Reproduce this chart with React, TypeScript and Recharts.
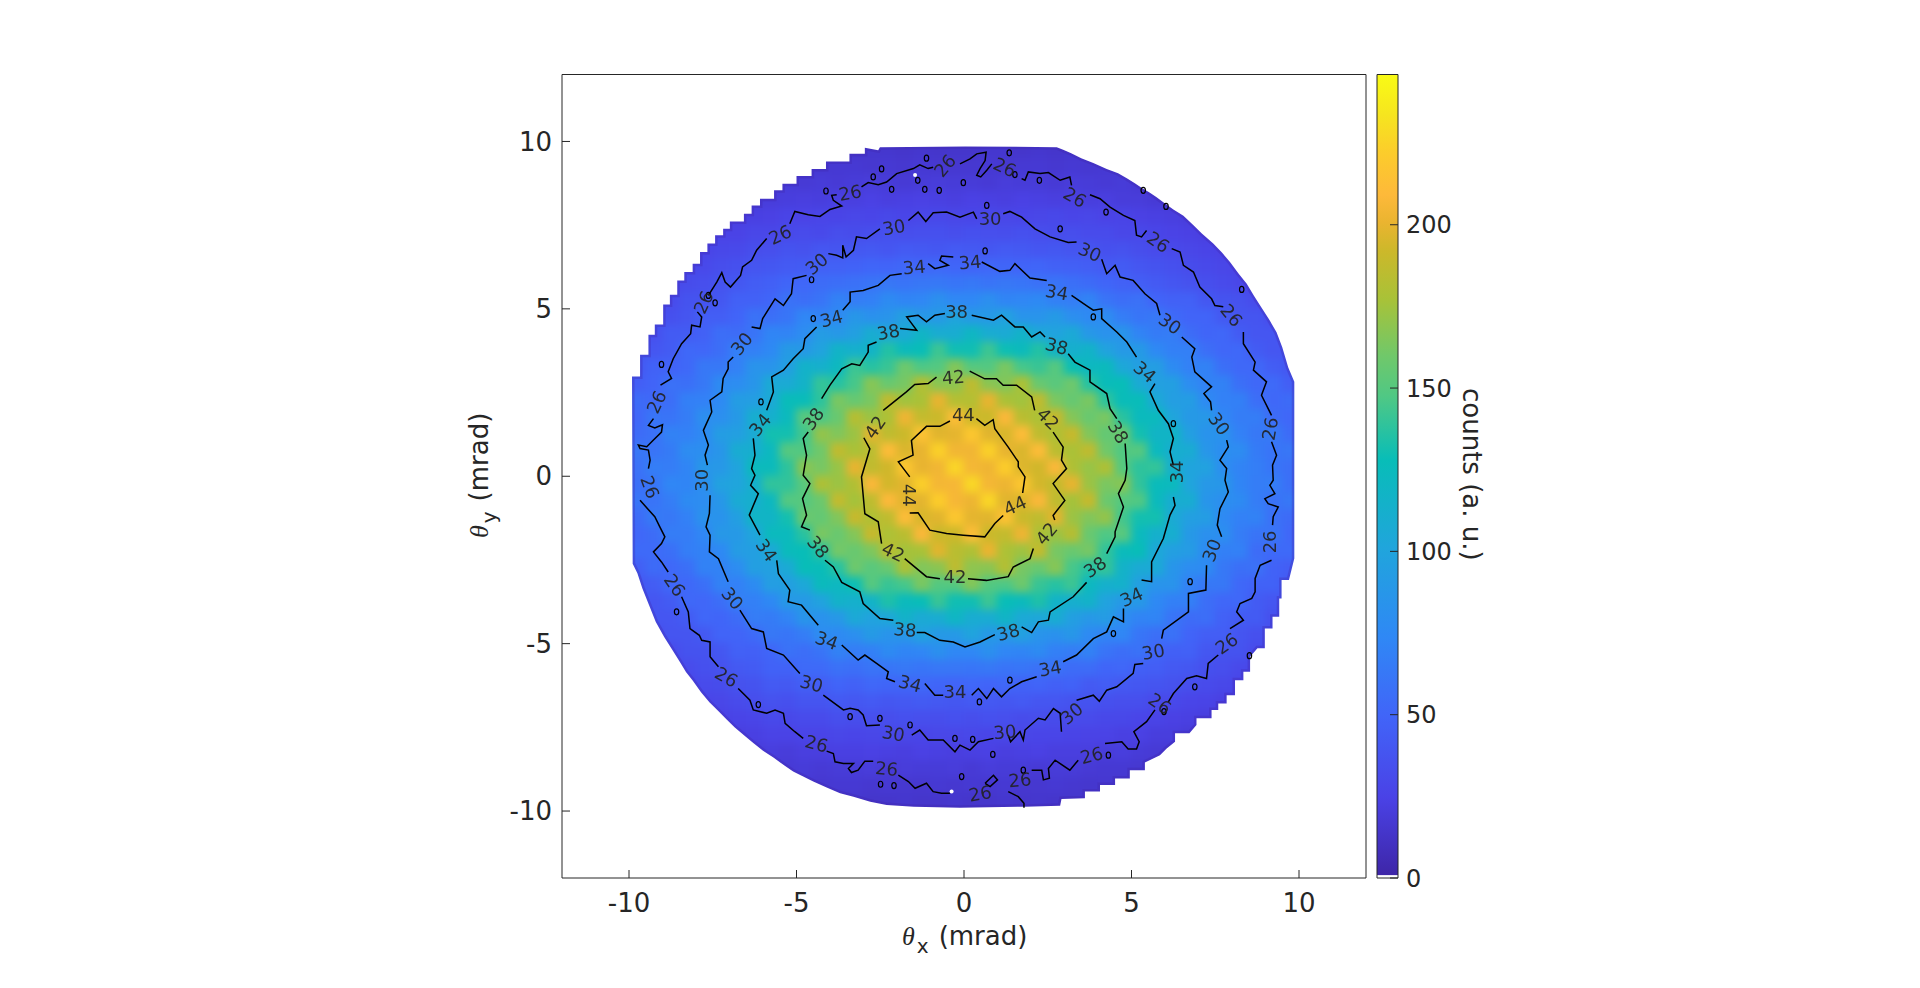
import { Bar, BarChart, Scatter, ScatterChart, XAxis, YAxis } from "recharts";

type Pt = [number, number];

const axisTicks = [-10, -5, 0, 5, 10];
const barTicks = [0, 50, 100, 150, 200];
const barMax = 246;

const heatX = [-10.25, -9.75, -9.25, -8.75, -8.25, -7.75, -7.25, -6.75, -6.25, -5.75, -5.25, -4.75, -4.25, -3.75, -3.25, -2.75, -2.25, -1.75, -1.25, -0.75, -0.25, 0.25, 0.75, 1.25, 1.75, 2.25, 2.75, 3.25, 3.75, 4.25, 4.75, 5.25, 5.75, 6.25, 6.75, 7.25, 7.75, 8.25, 8.75, 9.25, 9.75, 10.25];
const heatY = [10.25, 9.75, 9.25, 8.75, 8.25, 7.75, 7.25, 6.75, 6.25, 5.75, 5.25, 4.75, 4.25, 3.75, 3.25, 2.75, 2.25, 1.75, 1.25, 0.75, 0.25, -0.25, -0.75, -1.25, -1.75, -2.25, -2.75, -3.25, -3.75, -4.25, -4.75, -5.25, -5.75, -6.25, -6.75, -7.25, -7.75, -8.25, -8.75, -9.25, -9.75, -10.25];

// counts, one row per heatY
const heatRows = [
  [11,11,11,11,11,11,11,12,12,12,12,12,12,12,12,12,12,12,12,12,12,12,12,12,12,12,12,12,12,12,12,12,12,12,12,11,11,11,11,11,11,11],
  [11,12,12,12,13,13,13,14,14,14,14,14,15,15,14,15,15,14,15,14,14,14,15,15,14,15,14,15,15,14,14,14,14,13,13,13,12,12,12,11,11,11],
  [12,12,13,13,14,14,15,15,16,16,16,17,16,17,17,16,17,16,17,16,16,16,17,16,17,17,16,17,16,17,16,16,15,15,14,14,13,13,13,12,12,12],
  [12,13,13,14,15,16,16,17,18,17,19,18,19,18,19,20,19,18,19,20,19,19,18,20,19,19,18,20,19,18,19,17,18,16,16,15,14,14,13,13,12,12],
  [12,13,13,14,15,16,18,17,19,20,21,22,21,23,22,24,22,23,24,23,22,24,23,22,24,23,22,23,21,22,20,20,18,17,16,15,14,14,13,13,12,12],
  [14,15,16,17,18,19,21,22,23,24,26,25,27,26,28,27,29,27,28,29,28,27,29,28,27,28,29,27,28,25,26,24,23,22,20,19,18,17,16,15,15,14],
  [16,17,18,19,21,22,25,25,28,28,30,31,30,33,32,33,35,33,34,35,33,35,34,33,35,33,32,33,31,31,28,29,27,25,24,22,21,19,18,17,16,16],
  [18,19,20,22,24,26,29,30,33,34,37,36,39,38,40,41,39,42,41,40,42,41,40,42,41,39,40,38,38,35,36,33,31,30,28,26,24,22,20,19,18,18],
  [20,21,23,25,28,30,33,35,38,40,42,43,46,47,48,50,49,51,50,52,50,49,51,50,49,50,47,46,45,42,43,39,37,35,32,30,28,25,23,21,20,20],
  [22,24,26,28,32,34,37,40,44,46,50,51,55,56,58,60,62,60,62,63,61,63,60,62,61,58,60,57,54,50,47,45,42,39,36,34,31,28,26,24,22,22],
  [24,28,28,31,37,37,40,47,47,50,59,56,60,70,66,68,77,72,73,81,74,74,80,72,73,75,68,66,71,60,56,58,49,47,47,40,37,36,31,28,27,24],
  [26,28,34,35,38,45,45,49,59,57,61,73,71,76,88,82,85,96,89,90,100,90,90,98,85,85,91,80,76,78,66,61,63,53,49,49,41,38,38,31,28,29],
  [32,32,35,43,43,47,56,55,60,72,71,78,92,89,95,109,103,105,118,109,109,120,109,107,116,103,99,105,89,83,86,71,65,66,55,50,51,43,39,39,32,29],
  [33,40,39,43,52,51,56,68,68,75,91,90,99,117,113,117,135,125,128,142,130,130,142,129,125,135,117,112,117,99,90,91,75,68,68,56,51,52,43,39,40,33],
  [37,40,48,48,52,63,63,69,85,85,95,115,113,122,142,136,141,159,147,149,166,150,149,163,145,141,150,129,122,125,104,95,94,77,69,70,57,52,52,44,40,41],
  [46,45,49,58,57,63,77,78,86,106,107,116,140,136,145,167,157,162,182,168,169,186,168,165,179,157,151,159,136,127,128,107,96,95,78,70,70,57,52,53,45,42],
  [46,54,52,56,68,69,76,93,94,105,127,127,138,163,156,163,187,175,178,200,182,182,200,178,175,187,163,156,163,138,127,127,105,94,93,76,69,68,56,52,54,46],
  [48,51,61,60,66,80,80,90,111,112,124,151,147,157,183,173,179,203,188,191,212,192,191,208,184,179,190,166,157,163,137,124,124,101,90,89,73,66,66,55,51,54],
  [57,54,58,70,69,76,93,95,107,131,131,144,171,165,173,199,186,191,215,198,199,219,198,195,211,186,180,190,165,155,158,131,118,118,95,84,83,69,63,64,54,51],
  [53,62,60,65,78,79,87,109,111,123,150,148,160,187,178,185,211,196,200,224,204,204,224,200,196,211,185,178,187,160,148,150,123,111,109,87,79,78,65,60,62,53],
  [55,58,67,66,72,88,89,100,125,125,138,168,162,172,200,187,193,218,200,204,226,205,203,222,197,193,208,180,172,180,150,138,140,112,100,98,79,71,67,61,57,60],
  [60,57,61,73,72,80,98,101,113,139,139,151,180,173,181,208,194,198,223,205,206,227,205,202,218,194,188,200,173,163,167,139,126,124,101,89,88,72,66,67,57,54],
  [54,61,60,66,77,78,88,108,112,122,149,150,158,188,176,186,209,198,199,222,206,202,226,198,197,208,187,176,189,158,150,148,125,110,110,86,80,77,66,59,63,52],
  [51,54,64,63,69,83,84,95,118,118,131,158,155,165,190,180,186,211,195,198,219,199,198,215,191,186,199,173,165,171,144,131,131,107,95,93,76,69,70,58,54,57],
  [54,51,55,66,66,73,89,90,101,124,124,137,163,157,166,190,179,184,208,191,192,212,191,188,203,179,173,183,157,147,151,124,113,111,90,81,80,66,60,61,51,49],
  [47,53,53,57,67,70,75,92,95,104,126,128,137,161,157,164,185,176,177,198,184,180,201,179,174,188,162,157,162,139,126,128,104,95,92,77,68,69,55,53,53,47],
  [42,45,54,52,57,70,70,78,95,96,107,128,127,136,159,151,157,179,165,168,186,169,168,182,162,157,167,145,136,140,116,107,106,86,78,77,63,57,58,48,45,46],
  [41,40,44,52,52,57,70,69,77,94,95,104,125,122,129,150,141,145,163,149,150,166,149,147,159,141,136,142,122,113,114,95,85,85,69,63,63,52,48,48,40,37],
  [33,40,39,43,52,51,56,68,68,75,90,90,99,116,113,117,134,125,128,141,130,130,142,128,125,134,117,112,116,99,90,90,75,68,68,56,51,52,43,39,40,33],
  [29,32,39,39,43,51,50,55,66,65,71,86,83,89,105,99,103,116,107,109,120,109,109,118,105,103,109,95,89,92,78,71,72,60,55,56,47,43,43,35,32,32],
  [29,28,31,38,38,41,49,49,53,63,61,66,78,76,80,91,85,87,98,90,90,100,90,89,96,85,82,88,76,71,73,61,57,59,49,45,45,38,35,34,28,26],
  [23,28,28,31,37,37,40,47,46,50,59,56,60,70,66,68,77,72,73,81,74,74,81,73,72,77,68,66,70,60,56,59,50,46,47,40,37,37,31,28,28,23],
  [22,24,26,28,31,35,36,41,43,48,48,53,53,58,57,60,61,63,61,62,62,61,63,60,61,58,59,55,55,50,51,46,45,41,40,35,34,30,28,26,24,22],
  [20,21,23,25,27,31,32,36,37,42,41,45,44,49,47,51,50,50,52,50,49,51,49,51,48,49,46,48,42,44,41,40,38,36,33,31,29,27,25,23,21,20],
  [18,19,20,22,24,27,28,31,33,36,35,38,38,41,40,42,40,41,43,41,40,42,41,40,42,39,39,37,37,35,34,34,30,30,27,26,23,22,20,19,18,18],
  [16,17,18,19,21,23,24,26,27,30,29,31,31,34,33,34,33,35,34,33,35,33,35,34,32,33,32,31,31,29,29,27,26,24,23,21,20,18,17,16,16,16],
  [14,15,16,17,18,20,20,22,23,25,25,26,26,28,27,28,29,28,27,28,28,29,27,28,28,27,27,26,25,25,23,24,21,21,19,18,17,16,15,14,14,14],
  [12,13,13,14,15,17,17,18,19,21,20,22,22,23,23,24,23,22,24,23,22,23,24,22,23,24,22,22,22,20,21,19,18,17,15,15,14,13,13,12,12,12],
  [12,12,13,13,14,15,15,16,17,18,18,19,18,19,19,20,18,20,19,19,20,18,20,19,19,18,19,19,18,17,17,16,16,15,14,14,13,13,12,12,12,12],
  [12,12,12,13,13,14,14,15,15,16,16,17,16,17,17,16,17,16,16,17,16,17,16,17,16,16,17,16,15,16,15,15,14,14,13,13,13,12,12,12,12,12],
  [11,11,12,12,12,13,13,13,13,14,14,14,15,14,15,14,14,15,14,14,15,14,14,15,14,15,14,14,15,14,13,14,13,13,12,12,12,12,11,11,11,11],
  [11,11,11,11,11,11,11,12,12,12,12,12,12,12,12,12,12,12,12,12,12,12,12,12,12,12,12,12,12,12,12,12,12,12,12,11,11,11,11,11,11,11],
];

// outline of the measured disc, clockwise from the flat left side
const rim: Pt[] = [
  [-9.91,2.98],[-9.67,2.98],[-9.67,3.63],[-9.42,3.63],[-9.42,4.23],[-9.23,4.23],[-9.23,4.53],[-8.98,4.53],[-8.98,5.13],[-8.78,5.13],[-8.78,5.42],[-8.56,5.42],[-8.56,5.85],[-8.35,5.85],[-8.35,6.1],[-8.1,6.1],[-8.1,6.35],[-7.88,6.35],[-7.88,6.7],[-7.66,6.7],[-7.66,6.95],[-7.43,6.95],[-7.43,7.2],[-7.19,7.2],[-7.19,7.39],[-6.99,7.39],[-6.99,7.61],[-6.57,7.61],[-6.57,7.84],[-6.34,7.84],[-6.34,8.09],[-6.09,8.09],[-6.09,8.29],[-5.67,8.29],[-5.67,8.54],[-5.42,8.54],[-5.42,8.74],[-5,8.74],[-5,8.97],[-4.55,8.97],[-4.55,9.18],[-4.12,9.18],[-4.12,9.4],[-3.42,9.4],[-3.42,9.63],[-2.96,9.63],[-2.96,9.81],[-2.56,9.74],[-2.51,9.83],[0.03,9.85],
  [2.77,9.83],[2.96,9.75],[3.2,9.65],[3.5,9.5],[3.86,9.36],[4.26,9.18],[4.6,9.05],[4.86,8.9],[5.1,8.75],[5.3,8.62],[5.55,8.47],[5.75,8.33],[6,8.15],[6.25,7.97],[6.55,7.78],[6.85,7.5],[7.1,7.25],[7.44,6.95],[7.7,6.68],[7.94,6.4],[8.2,6.05],[8.44,5.75],[8.65,5.4],[8.84,5.1],[9.1,4.7],[9.33,4.3],[9.5,3.85],[9.68,3.25],[9.86,2.82],
  [9.86,-2.46],[9.7,-3.1],[9.48,-3.1],[9.48,-3.65],[9.41,-3.65],[9.41,-4.2],[9.21,-4.2],[9.21,-4.55],[8.98,-4.55],[8.98,-5.14],[8.76,-5.14],[8.54,-5.39],[8.54,-5.84],[8.34,-5.84],[8.34,-6.09],[8.09,-6.09],[8.09,-6.54],[7.84,-6.54],[7.84,-6.79],[7.59,-6.79],[7.59,-6.98],[7.39,-6.98],[7.39,-7.23],[6.94,-7.23],[6.94,-7.43],[6.73,-7.68],[6.3,-7.68],[6.3,-7.93],[6.05,-8.13],[5.85,-8.33],[5.4,-8.55],[5.4,-8.78],[4.95,-8.78],[4.95,-9.03],[4.51,-9.03],[4.51,-9.22],[4.06,-9.22],[4.06,-9.42],[3.61,-9.42],[3.61,-9.62],[2.91,-9.64],[2.87,-9.84],[1.82,-9.87],[-0.12,-9.9],
  [-1.5,-9.87],[-2.31,-9.82],[-2.8,-9.72],[-3.3,-9.57],[-3.7,-9.47],[-4.1,-9.3],[-4.5,-9.12],[-4.8,-8.97],[-5.1,-8.82],[-5.35,-8.65],[-5.69,-8.4],[-6,-8.2],[-6.29,-7.97],[-6.55,-7.75],[-6.85,-7.5],[-7.1,-7.25],[-7.35,-7],[-7.6,-6.75],[-7.85,-6.45],[-8.1,-6.1],[-8.3,-5.85],[-8.48,-5.55],[-8.7,-5.2],[-8.95,-4.8],[-9.2,-4.35],[-9.4,-3.85],[-9.6,-3.35],[-9.75,-2.9],[-9.89,-2.61],[-9.91,2.98],
];
const maskCorners: Pt[] = [[-11.3,2.98],[-11.3,11.3],[11.3,11.3],[11.3,-11.3],[-11.3,-11.3],[-11.3,2.98]];

const contour26: Pt[][] = [
  [[-9.42,.23],[-9.37,.48],[-9.42,.78],[-9.67,.83],[-9.72,.93],[-9.47,.88],[-9.27,1.08],[-9.03,1.32],[-9,1.54],[-9.23,1.44],[-9.42,1.52],[-9.27,1.72]],
  [[-9.06,2.72],[-8.73,2.92],[-8.83,3.12],[-8.68,3.51],[-8.43,3.96],[-8.16,4.26],[-8.13,4.51],[-7.88,4.46],[-7.83,4.76],[-7.96,4.91]],
  [[-7.63,5.4],[-7.38,5.8],[-7.23,6.08],[-7.13,5.8],[-6.97,5.65],[-6.67,6],[-6.61,6.25],[-6.34,6.45],[-6.19,6.75],[-5.89,7.1]],
  [[-5.2,7.54],[-5.05,7.91],[-4.65,7.81],[-4.3,7.76],[-4,7.97],[-3.65,8.07],[-3.9,8.24],[-3.95,8.39],[-3.8,8.41]],
  [[-3.06,8.64],[-2.86,8.77],[-2.56,8.71],[-2.31,8.79],[-2.01,9.04],[-1.51,9.19],[-1.32,9.3],[-1.07,9.19],[-.92,9.23]],
  [[-.12,9.33],[.18,9.48],[.38,9.63],[.66,9.68],[.63,9.43],[.48,9.19],[.38,8.99],[.5,8.94],[.68,9.14],[.83,9.33]],
  [[1.72,8.89],[1.82,8.84],[1.92,9.09],[2.27,9.04],[2.52,9.07],[2.87,8.84],[3.16,8.94],[3.21,8.69]],
  [[3.76,8.41],[4.06,8.29],[4.36,8.04],[4.76,7.79],[5.1,7.64],[5.15,7.2],[5.3,7.15],[5.45,7.34]],
  [[6.2,6.8],[6.45,6.7],[6.55,6.3],[6.85,6.1],[7.04,5.65],[7.39,5.3],[7.49,5.1],[7.74,5.06]],
  [[8.34,4.31],[8.34,3.96],[8.69,3.41],[8.64,3.17],[9.03,2.82],[8.88,2.42],[9.18,1.82]],
  [[9.18,1.03],[9.33,.63],[9.21,.33],[9.23,-.12],[9.13,-.27],[9.28,-.52],[8.98,-.67],[9.08,-.82],[9.38,-.92],[9.23,-1.21],[9.21,-1.46]],
  [[9.18,-2.51],[8.84,-2.66],[8.69,-3.05],[8.69,-3.45],[8.59,-3.65],[8.24,-3.8],[8.14,-4.05],[8.34,-4.3],[7.94,-4.55]],
  [[7.59,-5.34],[7.29,-5.59],[7.24,-6.04],[6.94,-5.96],[6.65,-6.04],[6.25,-6.49],[6.1,-6.74]],
  [[5.7,-6.98],[5.45,-7.33],[5.07,-7.63],[5.23,-7.93],[5.15,-8.15],[4.9,-8.15],[4.71,-7.93],[4.21,-7.98]],
  [[3.41,-8.48],[3.16,-8.78],[2.72,-8.48],[2.52,-8.73],[2.55,-9.02],[2.37,-9.07],[2.32,-8.78],[2.02,-8.78]],
  [[1.32,-9.42],[1.62,-9.57],[1.79,-9.77],[1.79,-9.9]],
  [[.63,-9.17],[.88,-8.93],[1,-9.07],[.78,-9.27],[.63,-9.17]],
  [[-.42,-9.47],[-.67,-9.47],[-.92,-9.42],[-1.12,-9.17],[-1.46,-9.32],[-1.66,-9.12],[-1.96,-8.93]],
  [[-2.71,-8.51],[-2.96,-8.51],[-3.16,-8.78],[-3.36,-8.85],[-3.45,-8.73],[-3.3,-8.58],[-3.6,-8.58],[-3.85,-8.53],[-3.9,-8.28],[-4.1,-8.21]],
  [[-4.8,-7.83],[-5.05,-7.63],[-5.34,-7.38],[-5.39,-7.08],[-5.64,-6.98],[-5.89,-7.08],[-6.29,-6.98],[-6.39,-6.69],[-6.74,-6.34]],
  [[-7.33,-5.69],[-7.58,-5.39],[-7.58,-4.95],[-7.83,-4.9],[-7.9,-4.75],[-8.18,-4.55],[-8.23,-4.05],[-8.43,-3.6]],
  [[-8.83,-2.86],[-9.03,-2.56],[-9.27,-2.26],[-9.03,-2.01],[-8.93,-1.81],[-9.08,-1.51],[-9.23,-1.21],[-9.67,-.72]],
];

const contour30: Pt[][] = [
  [[-7.66,.33],[-7.73,.63],[-7.63,.93],[-7.78,1.37],[-7.53,1.92],[-7.58,2.27],[-7.23,2.52],[-7.19,2.92],[-7.04,3.21],[-7.04,3.41],[-6.89,3.56]],
  [[-6.34,4.46],[-6.09,4.41],[-6.01,4.71],[-5.64,5.3],[-5.39,5.1],[-5.15,5.45],[-5.1,5.9],[-4.7,6]],
  [[-4.05,6.65],[-3.8,6.6],[-3.62,6.52],[-3.62,6.9],[-3.52,6.55],[-3.3,6.75],[-3.21,7.15],[-2.91,7.1],[-2.51,7.39]],
  [[-1.66,7.64],[-1.37,7.89],[-1.14,7.61],[-.92,7.87],[-.52,7.89],[-.12,7.74],[.28,7.89],[.38,7.69]],
  [[1.17,7.84],[1.37,7.91],[1.72,7.74],[2.12,7.39],[2.57,7.15],[3.11,6.98],[3.36,7]],
  [[4.11,6.48],[4.26,6.05],[4.51,6.3],[4.66,5.95],[5.05,5.85],[5.4,5.45],[5.75,5.16],[5.85,4.81]],
  [[6.5,4.16],[6.89,3.81],[6.8,3.56],[6.89,3.12],[7.39,2.67],[7.16,2.47],[7.36,2.22],[7.39,1.97]],
  [[7.84,1.08],[7.89,.88],[7.64,.48],[7.84,.23],[7.79,-.12],[7.89,-.47],[7.64,-.97],[7.56,-1.46],[7.69,-1.81]],
  [[7.24,-2.66],[7.22,-3.4],[6.7,-3.5],[6.7,-4.05],[5.95,-4.6],[5.9,-4.85]],
  [[5.35,-5.59],[5.1,-5.62],[5.05,-5.89],[4.56,-6.29],[4.26,-6.39],[4.04,-6.72],[3.86,-6.54],[3.36,-6.69]],
  [[2.87,-7.08],[2.91,-7.63],[2.87,-7.08],[2.67,-6.94],[2.42,-7.28],[2.22,-7.23],[1.82,-7.58],[1.77,-7.88],[1.67,-7.63],[1.39,-7.93],[1.32,-7.73]],
  [[.88,-7.83],[.43,-7.93],[.18,-8.18],[-.12,-8.03],[-.27,-8.23],[-.62,-7.88],[-1.07,-7.88],[-1.32,-7.58],[-1.56,-7.73]],
  [[-2.51,-7.43],[-2.91,-7.45],[-3.01,-7.13],[-3.16,-6.98],[-3.4,-6.93],[-3.6,-6.98],[-4.2,-6.54]],
  [[-4.9,-5.89],[-5.39,-5.34],[-5.89,-5.14],[-5.99,-4.65],[-6.34,-4.55],[-6.69,-4]],
  [[-7.04,-3.15],[-7.33,-2.46],[-7.6,-2.26],[-7.58,-1.76],[-7.7,-1.51],[-7.6,-1.11],[-7.58,-.57]],
];

const contour34: Pt[][] = [
  [[-6.09,-1.76],[-6.41,-1.16],[-6.14,-.52],[-6.37,-.27],[-6.24,.03],[-6.34,.23],[-6.24,.63],[-6.29,1.13]],
  [[-5.89,1.97],[-5.69,2.52],[-5.74,2.97],[-5.39,3.17],[-5.1,3.51],[-4.8,3.81],[-4.75,4.11],[-4.4,4.46]],
  [[-3.62,4.96],[-3.4,5.21],[-3.4,5.5],[-3.01,5.55],[-2.56,5.7],[-2.21,6],[-1.86,6.05]],
  [[-1.07,6.35],[-.87,6.2],[-.47,6.3],[-.72,6.45],[-.67,6.58],[-.32,6.55]],
  [[.53,6.4],[1.07,6.12],[1.37,6.15],[1.52,6.35],[1.97,5.92],[2.47,5.85]],
  [[3.21,5.4],[3.71,5.06],[3.86,4.96],[4.11,5],[4.11,4.71],[4.56,4.31],[4.86,4.01],[5.15,3.56]],
  [[5.7,2.77],[5.55,2.52],[5.8,1.97],[6.1,1.57],[6.25,1.13],[6.15,.73],[6.25,.33]],
  [[6.25,-.62],[6.3,-.87],[6.15,-1.16],[5.95,-1.86],[5.6,-2.56],[5.6,-3.15],[5.3,-3.1]],
  [[4.76,-3.95],[4.76,-4.35],[4.46,-4.2],[4.26,-4.65],[3.86,-4.85],[3.36,-5.34],[2.96,-5.54]],
  [[2.17,-5.99],[1.72,-6.14],[1.37,-6.34],[1.12,-6.59],[.88,-6.34],[.68,-6.64],[.43,-6.34],[.23,-6.54]],
  [[-.62,-6.54],[-.87,-6.54],[-1.17,-6.19]],
  [[-2.06,-6.14],[-2.31,-6.04],[-2.26,-5.84],[-2.61,-5.59],[-2.96,-5.34],[-3.16,-5.49],[-3.65,-5.04]],
  [[-4.35,-4.45],[-4.85,-3.85],[-5.25,-3.75],[-5.2,-3.4],[-5.54,-2.91],[-5.59,-2.51]],
];

const contour38: Pt[][] = [
  [[-4.6,-1.61],[-4.85,-1.51],[-4.7,-1.16],[-4.82,-.67],[-4.6,-.22],[-4.8,.03],[-4.7,.63],[-4.8,1.13],[-4.65,1.32]],
  [[-4.25,2.32],[-4,2.72],[-3.65,3.21],[-3.35,3.36],[-3.11,3.31],[-2.86,3.71],[-2.86,3.91],[-2.61,4.01]],
  [[-1.91,4.41],[-1.41,4.36],[-1.71,4.76],[-1.37,4.81],[-1.12,4.61],[-.87,4.81],[-.57,4.86]],
  [[.23,4.81],[.88,4.66],[1.12,4.81],[1.52,4.46],[1.77,4.46],[2.02,4.16],[2.27,4.31],[2.42,4.16]],
  [[3.11,3.66],[3.31,3.41],[3.76,3.17],[3.76,2.82],[4.26,2.47],[4.36,2.02],[4.56,1.72]],
  [[4.81,.98],[4.86,.23],[4.81,-.12],[4.61,-.52],[4.76,-.92],[4.51,-1.66],[4.51,-1.81],[4.26,-2.31]],
  [[3.66,-3.17],[3.26,-3.6],[2.57,-4.05],[2.52,-4.3],[2.22,-4.35],[2.02,-4.67],[1.72,-4.5]],
  [[.92,-4.73],[.48,-4.95],[.03,-5.1],[-.32,-4.95],[-.72,-4.9],[-1.17,-4.67],[-1.41,-4.67]],
  [[-2.11,-4.3],[-2.51,-4.25],[-3.01,-3.8],[-3.11,-3.45],[-3.65,-3.17],[-3.9,-2.71],[-4.15,-2.51]],
];

const contour42: Pt[][] = [
  [[-2.41,1.97],[-1.72,2.52],[-1.47,2.74],[-1.07,2.77],[-.82,2.96]],
  [[.17,3.14],[.62,2.91],[.97,2.91],[1.17,2.72],[1.57,2.72],[2.02,2.37],[2.11,1.97]],
  [[2.66,1.32],[2.96,.87],[2.91,.48],[3.06,.23],[2.66,-.22],[3.01,-.72],[2.66,-1.17],[2.71,-1.31]],
  [[2.07,-2.16],[1.97,-2.46],[1.47,-2.71],[1.32,-3],[.67,-3.11],[.12,-3.06]],
  [[-.72,-3.06],[-1.12,-3],[-1.77,-2.46]],
  [[-2.46,-2.01],[-2.56,-1.36],[-2.96,-1.12],[-3.06,-.02],[-2.81,.82],[-2.99,1.15]],
];

const contour44: Pt[][] = [
  [[-1.62,-.02],[-1.96,.43],[-1.52,.63],[-1.57,1.07],[-1.12,1.49],[-.72,1.49],[-.42,1.65]],
  [[.37,1.72],[.62,1.52],[.87,1.69],[.92,1.42],[1.32,.87],[1.62,.43],[1.62,.28],[1.82,-.02],[1.75,-.5]],
  [[1.17,-1.17],[.92,-1.41],[.62,-1.81],[-.02,-1.76],[-.52,-1.71],[-1.02,-1.61],[-1.37,-1.09],[-1.62,-1.1]],
];

// [x, y, level, angle]
const contourLabels: [number, number, number, number][] = [
  [-9.18,2.22,26,-65],[-7.78,5.2,26,-65],[-5.49,7.22,26,-25],[-3.4,8.47,26,-10],[-.57,9.28,26,-50],[1.22,9.23,26,25],[3.31,8.34,26,30],[5.8,7,26,35],[7.99,4.81,26,50],[9.13,1.42,26,-80],[9.13,-1.96,26,-90],[7.84,-4.99,26,-35],[5.85,-6.79,26,35],[3.81,-8.33,26,-15],[1.67,-9.07,26,-5],[.48,-9.47,26,-10],[-2.31,-8.73,26,5],[-4.4,-7.98,26,15],[-7.09,-5.99,26,30],[-8.63,-3.25,26,55],[-9.37,-.32,26,70],
  [-6.64,3.96,30,-50],[-4.4,6.35,30,-40],[-2.09,7.44,30,-10],[.78,7.69,30,0],[3.76,6.7,30,25],[6.15,4.56,30,35],[7.62,1.57,30,55],[7.39,-2.21,30,-70],[5.65,-5.24,30,-10],[3.21,-7.08,30,-40],[1.22,-7.63,30,-5],[-2.11,-7.68,30,10],[-4.55,-6.19,30,15],[-6.91,-3.65,30,50],[-7.83,-.12,30,-90],
  [-6.09,1.54,34,-50],[-3.96,4.71,34,-15],[-1.49,6.25,34,-5],[.18,6.4,34,-5],[2.77,5.5,34,10],[5.4,3.12,34,40],[6.35,.13,34,-90],[5,-3.6,34,-25],[2.57,-5.74,34,-10],[-.27,-6.44,34,0],[-1.61,-6.19,34,15],[-4.1,-4.9,34,20],[-5.89,-2.21,34,55],
  [-4.5,1.72,38,-55],[-2.26,4.31,38,-10],[-.22,4.91,38,0],[2.77,3.89,38,15],[4.61,1.32,38,60],[3.91,-2.71,38,-35],[1.32,-4.65,38,-15],[-1.76,-4.58,38,5],[-4.35,-2.11,38,50],
  [-.32,2.96,42,-5],[-2.66,1.47,42,-55],[2.51,1.72,42,45],[2.46,-1.71,42,-50],[-2.11,-2.26,42,25],[-.27,-3,42,0],
  [-.02,1.85,44,0],[-1.62,-.57,44,90],[1.52,-.87,44,-25],
];

// little closed contours scattered over the noisy outer part
const islets: Pt[] = [
  [-9.03,3.34],[-4.12,8.52],[-2.46,9.18],[-2.71,8.94],[-1.12,9.5],[-2.16,8.57],[-1.38,8.84],[-1.17,8.57],[-.74,8.54],[-4.55,5.87],[-4.5,4.71],[-6.06,2.22],[-7.43,5.18],[-7.63,5.4],
  [.68,8.09],[2.87,7.39],[2.25,8.84],[4.24,7.89],[3.86,4.76],[6.25,1.57],[6.03,8.06],[5.35,8.54],[8.29,5.58],[1.35,9.66],[.63,6.73],[-.02,8.77],[1.52,9.01],
  [-6.14,-6.82],[-2.51,-7.23],[-1.61,-7.43],[-.27,-7.83],[-3.4,-7.18],[-2.49,-9.2],[-2.09,-9.24],[-.07,-8.97],[-8.58,-4.05],
  [1.37,-6.09],[.46,-6.74],[.26,-7.86],[.86,-8.31],[4.31,-8.33],[6.89,-6.29],[6.75,-3.15],[4.46,-4.7],[5.97,-7.03],[8.52,-5.36],[1.77,-8.78],
];
const specks: Pt[] = [[-1.46,9],[-.37,-9.42]];

const parulaStops: [number, string][] = [
  [0, "#3e26a8"], [0.1, "#4a42e6"], [0.2, "#4164f8"], [0.3, "#2f88f5"], [0.41, "#20a5dc"], [0.52, "#08bdb8"],
  [0.6, "#50c884"], [0.65, "#70c86a"], [0.72, "#a8c238"], [0.78, "#ccb82a"], [0.816, "#eab430"], [0.85, "#fdb93a"],
  [0.9, "#fccb2c"], [0.95, "#f6e51f"], [1, "#f9fb15"],
];

const hexToRgb = (h: string) => [1, 3, 5].map((i) => parseInt(h.slice(i, i + 2), 16));

function parula(v: number) {
  const t = Math.min(1, Math.max(0, v / barMax));
  for (let i = 1; i < parulaStops.length; i++) {
    if (t <= parulaStops[i][0]) {
      const [t0, c0] = parulaStops[i - 1];
      const [t1, c1] = parulaStops[i];
      const f = (t - t0) / (t1 - t0);
      const a = hexToRgb(c0);
      const b = hexToRgb(c1);
      return `rgb(${a.map((x, k) => Math.round(x + (b[k] - x) * f)).join(",")})`;
    }
  }
  return parulaStops[parulaStops.length - 1][1];
}

const heatData = heatRows.flatMap((row, r) => row.map((v, c) => ({ x: heatX[c], y: heatY[r], v })));
const toXY = (pts: Pt[]) => pts.map(([x, y]) => ({ x, y }));
const maskData = toXY([...maskCorners, ...rim, maskCorners[0]]);
const segments = [...contour26, ...contour30, ...contour34, ...contour38, ...contour42, ...contour44];
const labelData = contourLabels.map(([x, y, level, angle]) => ({ x, y, level, angle }));

const ink = "#262626";
const font = "'DejaVu Sans', sans-serif";
const noDot = () => <g />;
const HeatCell = ({ cx, cy, payload }: any) => <rect x={cx - 9} y={cy - 9} width={18} height={18} fill={parula(payload.v)} />;
const IsletDot = ({ cx, cy }: any) => <ellipse cx={cx} cy={cy} rx={2.2} ry={3} fill="none" stroke="#000" strokeWidth={1.2} />;
const SpeckDot = ({ cx, cy }: any) => <circle cx={cx} cy={cy} r={2} fill="#fff" />;
const ContourLabel = ({ cx, cy, payload }: any) => (
  <text x={cx} y={cy} fontSize={18} fontFamily={font} fill="#222" opacity={0.9} textAnchor="middle" dominantBaseline="central" transform={`rotate(${payload.angle} ${cx} ${cy})`}>
    {payload.level}
  </text>
);

export default function App() {
  const axisTick = { fontSize: 26, fontFamily: font, fill: ink };
  return (
    <div style={{ position: "absolute", left: 0, top: 0, width: 1920, height: 988, background: "#fff" }}>
      <style>{`.heat-layer{filter:url(#heatBlur)}`}</style>
      <div style={{ position: "absolute", left: 0, top: 0 }}>
        <ScatterChart width={1920} height={988} margin={{ left: 561, top: 73.5, right: 553, bottom: 109 }}>
          <defs>
            <filter id="heatBlur" x="-5%" y="-5%" width="110%" height="110%" colorInterpolationFilters="sRGB">
              <feGaussianBlur stdDeviation={4.5} />
            </filter>
          </defs>
          <XAxis type="number" dataKey="x" domain={[-12, 12]} ticks={axisTicks} height={1} stroke={ink} tickSize={-8} tickMargin={24} tick={axisTick} interval={0} />
          <XAxis xAxisId="top" orientation="top" type="number" dataKey="x" domain={[-12, 12]} ticks={axisTicks} height={1} stroke={ink} tickSize={-8} tickFormatter={() => ""} interval={0} />
          <YAxis type="number" dataKey="y" domain={[-12, 12]} ticks={axisTicks} width={1} stroke={ink} tickSize={-8} tickMargin={18} tick={axisTick} interval={0} />
          <YAxis yAxisId="right" orientation="right" type="number" dataKey="y" domain={[-12, 12]} ticks={axisTicks} width={1} stroke={ink} tickSize={-8} tickFormatter={() => ""} interval={0} />
          <Scatter className="heat-layer" data={heatData} shape={HeatCell} isAnimationActive={false} />
          <Scatter data={toXY(rim)} shape={noDot} line={{ stroke: "#3e26a8", strokeWidth: 5, strokeOpacity: 0.3 }} isAnimationActive={false} />
          <Scatter data={maskData} shape={noDot} line={{ fill: "#fff", fillRule: "evenodd", stroke: "none" }} isAnimationActive={false} />
          {segments.map((seg, i) => (
            <Scatter key={i} data={toXY(seg)} shape={noDot} line={{ stroke: "#000", strokeWidth: 1.5 }} isAnimationActive={false} />
          ))}
          <Scatter data={toXY(islets)} shape={IsletDot} isAnimationActive={false} />
          <Scatter data={toXY(specks)} shape={SpeckDot} isAnimationActive={false} />
          <Scatter data={labelData} shape={ContourLabel} isAnimationActive={false} />
          <text x={902} y={945} fill={ink} fontFamily={font} fontSize={26}>
            <tspan fontFamily="'Liberation Serif', serif" fontStyle="italic">θ</tspan>
            <tspan fontSize={20} dx={2} dy={8}>x</tspan>
            <tspan dx={10} dy={-8}>(mrad)</tspan>
          </text>
          <text transform="translate(488,538) rotate(-90)" fill={ink} fontFamily={font} fontSize={26}>
            <tspan fontFamily="'Liberation Serif', serif" fontStyle="italic">θ</tspan>
            <tspan fontSize={20} dx={2} dy={8}>y</tspan>
            <tspan dx={10} dy={-8}>(mrad)</tspan>
          </text>
        </ScatterChart>
      </div>
      <div style={{ position: "absolute", left: 1340, top: 0 }}>
        <BarChart width={200} height={988} data={[{ name: "counts", v: barMax }]} barCategoryGap={0} margin={{ left: 37, top: 74.5, right: 141, bottom: 110 }}>
          <defs>
            <linearGradient id="parulaBar" x1="0" y1="1" x2="0" y2="0">
              <stop offset="0" stopColor="#fff" />
              <stop offset="0.003" stopColor="#fff" />
              {parulaStops.map(([t, c]) => (
                <stop key={t} offset={Math.max(t, 0.004)} stopColor={c} />
              ))}
            </linearGradient>
          </defs>
          <XAxis dataKey="name" hide />
          <YAxis orientation="right" type="number" domain={[0, barMax]} ticks={barTicks} width={1} axisLine={false} stroke={ink} tickSize={-8} tickMargin={16} tick={{ fontSize: 24, fontFamily: font, fill: ink }} interval={0} />
          <Bar dataKey="v" fill="url(#parulaBar)" stroke={ink} strokeWidth={1} isAnimationActive={false} />
          <text transform="translate(123,388) rotate(90)" fill={ink} fontFamily={font} fontSize={26}>counts (a. u.)</text>
        </BarChart>
      </div>
    </div>
  );
}
